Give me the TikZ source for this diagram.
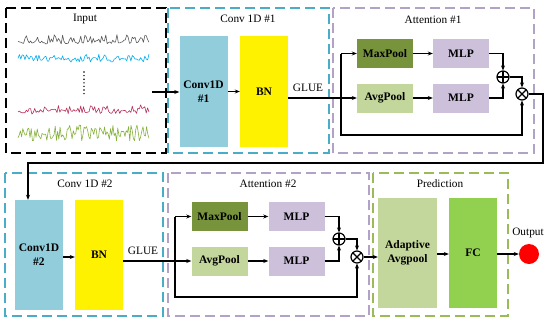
\documentclass[tikz,border=0pt]{standalone}
\usepackage{fontspec}
\setmainfont{Liberation Serif}
\usetikzlibrary{arrows.meta,calc}
\definecolor{cyanD}{HTML}{4BACC6}
\definecolor{purpD}{HTML}{B3A2C7}
\definecolor{greenD}{HTML}{9BBB59}
\definecolor{convC}{HTML}{92CDDC}
\definecolor{maxC}{HTML}{77933C}
\definecolor{avgC}{HTML}{C3D69B}
\definecolor{mlpC}{HTML}{CCC0DA}
\definecolor{fcC}{HTML}{92D050}
\definecolor{sigR}{HTML}{B8305A}
\definecolor{sigG}{HTML}{86B03C}
\tikzset{
  grp/.style={line width=1.6pt, dash pattern=on 10pt off 5pt},
  ttl/.style={font=\fontsize{11.3}{13}\selectfont, inner sep=0},
  blk/.style={draw=none, inner sep=0, align=center, font=\fontsize{11.5}{14}\selectfont\bfseries},
  tall/.style={blk, minimum width=48pt, minimum height=110pt},
  small/.style={blk, minimum width=56pt, minimum height=29pt},
  conn/.style={line width=1.2pt},
  arr/.style={conn, -{Stealth[length=5pt,width=4pt]}},
  sig/.style={line width=0.6pt, line join=round},
  opl/.style={circle, draw, line width=1.2pt, minimum size=12pt, inner sep=0,
    path picture={\draw[line width=1.2pt] (path picture bounding box.north) -- (path picture bounding box.south)
      (path picture bounding box.west) -- (path picture bounding box.east);}},
  otm/.style={circle, draw, line width=1.2pt, minimum size=12pt, inner sep=0,
    path picture={\draw[line width=1.2pt] ([shift={(45:7pt)}]path picture bounding box.center) -- ([shift={(225:7pt)}]path picture bounding box.center)
      ([shift={(135:7pt)}]path picture bounding box.center) -- ([shift={(315:7pt)}]path picture bounding box.center);}},
}
\begin{document}
\begin{tikzpicture}[x=1pt,y=-1pt]
\useasboundingbox (0,0) rectangle (550,325);
% group boxes
\draw[grp, draw=black] (6,8) rectangle (166,153);
\draw[grp, draw=cyanD] (168,8) rectangle (329,153);
\draw[grp, draw=purpD] (333,8) rectangle (534,153);
\draw[grp, draw=cyanD] (5,173) rectangle (163,316);
\draw[grp, draw=purpD] (168,173) rectangle (369,316);
\draw[grp, draw=greenD] (373,173) rectangle (508,316);
% titles
\node[ttl] (tin) at (85,19) {Input};
\node[ttl] (tc1) at (248,19) {Conv 1D \#1};
\node[ttl] (ta1) at (433,20) {Attention \#1};
\node[ttl] (tc2) at (85,184) {Conv 1D \#2};
\node[ttl] (ta2) at (268,184) {Attention \#2};
\node[ttl] (tpr) at (440,184) {Prediction};
% signals
\pgfmathsetseed{11}
\draw[sig, black!65] plot[domain=18:149, samples=95] (\x,{43-8*abs(rand)^2+1.2*rand});
\draw[sig, cyan] plot[domain=18:149, samples=95] (\x,{61-7*abs(rand)^2+1.2*rand});
\draw[sig, sigR] plot[domain=18:149, samples=95] (\x,{113-8*abs(rand)^2+1.2*rand});
\draw[sig, sigG] plot[domain=18:149, samples=110] (\x,{133+8*rand});
\draw[line width=1.6pt, dash pattern=on 0pt off 3.6pt, line cap=round] (84,72) -- (84,97);
% row 1 blocks
\node[tall, fill=convC, minimum height=111pt] (conv1) at (203.5,91.5) {Conv1D\\\#1};
\node[tall, fill=yellow, minimum height=111pt] (bn1) at (264,91.5) {BN};
\node[small, fill=maxC] (max1) at (385,53.5) {MaxPool};
\node[small, fill=mlpC] (mlp1a) at (461,53.5) {MLP};
\node[small, fill=avgC] (avg1) at (385,98) {AvgPool};
\node[small, fill=mlpC] (mlp1b) at (461,98) {MLP};
\node[opl] (op1) at (503,77) {};
\node[otm] (ot1) at (522,94) {};
% row 2 blocks
\node[tall, fill=convC] (conv2) at (39,255) {Conv1D\\\#2};
\node[tall, fill=yellow] (bn2) at (99,255) {BN};
\node[small, fill=maxC] (max2) at (219.5,216.5) {MaxPool};
\node[small, fill=mlpC] (mlp2a) at (296.5,216.5) {MLP};
\node[small, fill=avgC] (avg2) at (219.5,261) {AvgPool};
\node[small, fill=mlpC] (mlp2b) at (296.5,261) {MLP};
\node[opl] (op2) at (339,239) {};
\node[otm] (ot2) at (357,257) {};
\node[tall, fill=avgC, minimum width=59pt] (ada) at (407.5,253) {Adaptive\\Avgpool};
\node[tall, fill=fcC] (fc) at (473,253) {FC};
\node[circle, fill=red, minimum size=20pt, inner sep=0] (out) at (529,254) {};
\node[ttl] (outl) at (528,233) {Output};
% row 1 connectors
\coordinate (inS) at (152,92);
\draw[arr] (inS) -- (inS -| conv1.west);
\draw[arr] (conv1.east) -- (bn1.west);
\draw[conn] (bn1.east |- avg1) -- (avg1.west -| 341,0);
\draw[arr] (341,98) -- (avg1.west);
\node[ttl] (glue1) at (308,88) {GLUE};
\coordinate (sp1) at (341,53.5);
\coordinate (lp1) at (341,135);
\draw[arr] (sp1) -- (max1.west);
\draw[arr] (sp1) -- (lp1) -| (ot1.south);
\draw[arr] (max1.east) -- (mlp1a.west);
\draw[arr] (avg1.east) -- (mlp1b.west);
\draw[arr] (mlp1a.east) -| (op1.north);
\draw[arr] (mlp1b.east) -| (op1.south);
\draw[arr] (op1.east) -| (ot1.north);
\coordinate (r1) at (543,163);
\coordinate (c2in) at (28,163);
\draw[arr] (ot1.east) -| (r1) -- (c2in) -- (c2in |- conv2.north);
% row 2 connectors
\draw[arr] (conv2.east |- 0,257) -- (bn2.west |- 0,257);
\draw[conn] (bn2.east |- avg2) -- (175,261);
\draw[arr] (175,261) -- (avg2.west);
\node[ttl] (glue2) at (143,251) {GLUE};
\coordinate (sp2) at (175,216.5);
\coordinate (lp2) at (175,297);
\draw[arr] (sp2) -- (max2.west);
\draw[arr] (sp2) -- (lp2) -| (ot2.south);
\draw[arr] (max2.east) -- (mlp2a.west);
\draw[arr] (avg2.east) -- (mlp2b.west);
\draw[arr] (mlp2a.east) -| (op2.north);
\draw[arr] (mlp2b.east) -| (op2.south);
\draw[arr] (op2.east) -| (ot2.north);
\draw[arr] (ot2.east) -- (ot2.east -| ada.west);
\draw[arr] (ada.east |- out) -- (fc.west |- out);
\draw[arr] (fc.east |- out) -- (out.west);
\end{tikzpicture}
\end{document}
